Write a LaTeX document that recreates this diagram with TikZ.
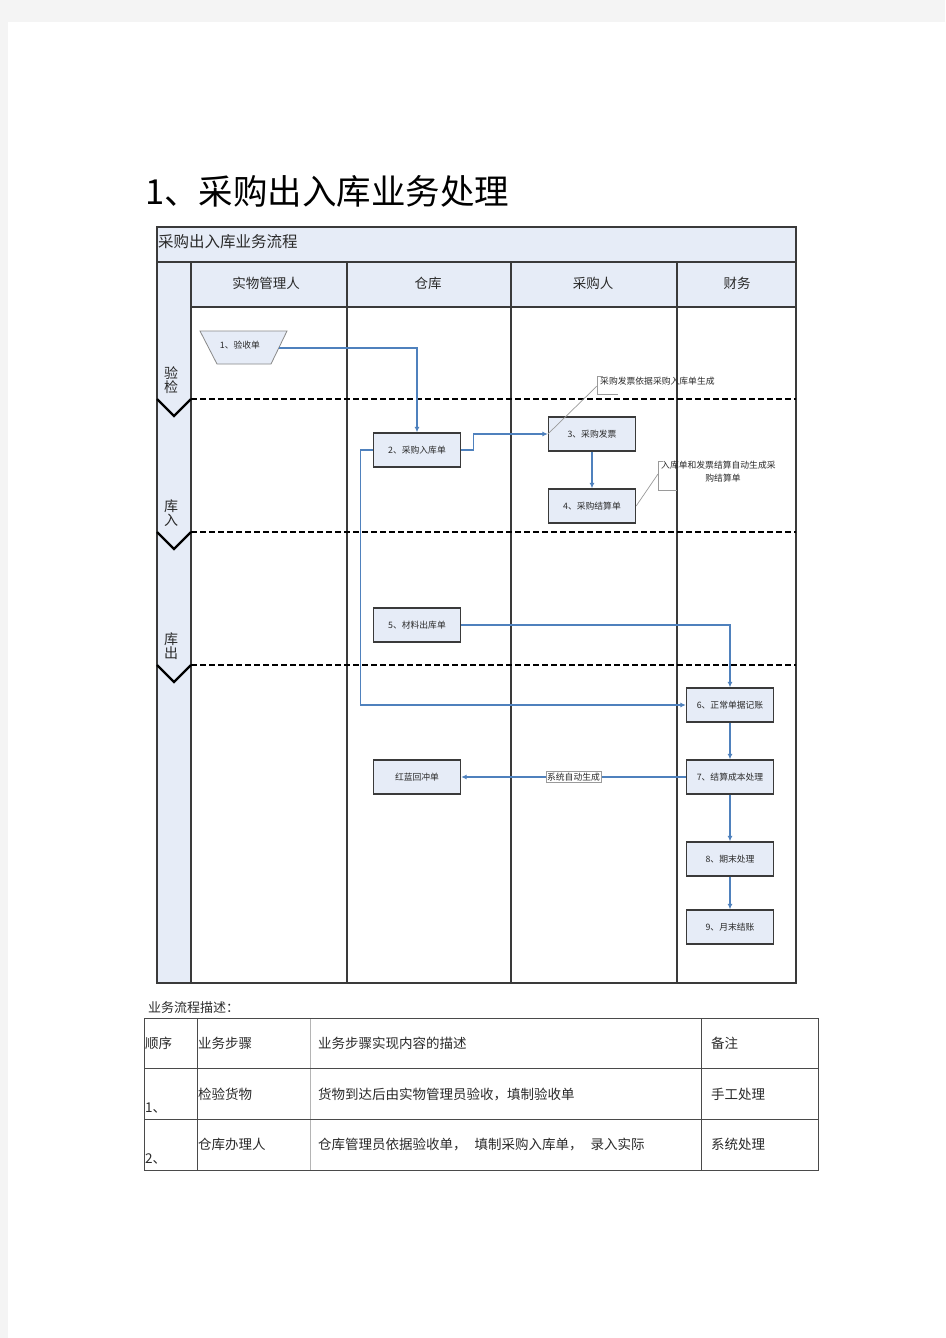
\documentclass[tikz,border=0pt]{standalone}
\usepackage{fontspec}
\setmainfont{Noto Sans CJK SC}
\usetikzlibrary{arrows.meta}
\definecolor{pagegrey}{HTML}{F4F4F4}
\definecolor{lanefill}{HTML}{E6ECF7}
\definecolor{flowblue}{HTML}{4F81BD}
\definecolor{boxline}{HTML}{3A3A3A}
\definecolor{notegrey}{HTML}{9A9A9A}
\definecolor{tabline}{HTML}{4A4A4A}
\definecolor{tabgrey}{HTML}{B4B4B4}
\definecolor{txt}{HTML}{2A2A2A}
\begin{document}
\begin{tikzpicture}[x=1pt,y=-1pt,
  stepbox/.style={draw=boxline,line width=1.3pt,fill=lanefill,minimum width=87pt,minimum height=34pt,inner sep=0pt,font=\fontsize{8.8}{10}\selectfont,text=txt},
  flow/.style={draw=flowblue,line width=1.2pt,-{Latex[length=5.5pt,width=5pt]}},
  noteline/.style={draw=notegrey,line width=0.7pt},
  notetext/.style={font=\fontsize{8.8}{10}\selectfont,text=txt,inner sep=0pt},
  frame/.style={draw=boxline,line width=1.2pt},
  phaseline/.style={draw=black,line width=2.3pt,dash pattern=on 6pt off 3pt},
  chevron/.style={draw=black,line width=2.3pt},
  lanehead/.style={font=\fontsize{13.5}{14}\selectfont,text=txt,inner sep=0pt},
  phasetext/.style={font=\fontsize{14}{14}\selectfont,text=txt,inner sep=0pt,align=center},
  tabtext/.style={font=\fontsize{13.5}{14}\selectfont,text=txt,inner sep=0pt,anchor=west},
  autolabel/.style={fill=white,draw=notegrey,line width=0.5pt,font=\fontsize{8.8}{10}\selectfont,text=txt,inner sep=1.2pt}
]
\useasboundingbox (0,0) rectangle (945,1338);
\fill[pagegrey] (0,0) rectangle (945,1338);
\fill[white] (8,22) rectangle (945,1338);

% page title
\node[anchor=west,inner sep=0pt,font=\fontsize{34.5}{36}\selectfont] (title) at (145,191) {1、采购出入库业务处理};

% swimlane frame
\fill[lanefill] (157,227) rectangle (796,262);
\fill[lanefill] (191,262) rectangle (796,307);
\fill[lanefill] (157,262) rectangle (191,983);
\draw[frame] (157,227) rectangle (796,983);
\draw[frame] (157,262) -- (796,262);
\draw[frame] (191,307) -- (796,307);
\draw[frame] (191,262) -- (191,983);
\draw[frame] (347,262) -- (347,983);
\draw[frame] (511,262) -- (511,983);
\draw[frame] (677,262) -- (677,983);

\node[anchor=west,inner sep=0pt,font=\fontsize{15.5}{16}\selectfont,text=txt] (flowtitle) at (158,242) {采购出入库业务流程};
\node[lanehead] (h1) at (266,283) {实物管理人};
\node[lanehead] (h2) at (428,283) {仓库};
\node[lanehead] (h3) at (593,283) {采购人};
\node[lanehead] (h4) at (737,283) {财务};

% phases
\draw[phaseline] (191,399) -- (796,399);
\draw[phaseline] (191,532) -- (796,532);
\draw[phaseline] (191,665) -- (796,665);
\draw[chevron] (157,399) -- (174,416) -- (191,399);
\draw[chevron] (157,532) -- (174,549) -- (191,532);
\draw[chevron] (157,665) -- (174,682) -- (191,665);
\node[phasetext] (p1) at (171,380) {验\\检};
\node[phasetext] (p2) at (171,513) {库\\入};
\node[phasetext] (p3) at (171,646) {库\\出};

% nodes
\draw[draw=boxline!60,fill=lanefill,line width=0.8pt] (200,331) -- (287,331) -- (271,364) -- (217,364) -- cycle;
\node[notetext] (n1) at (240,345) {1、验收单};
\coordinate (n1r) at (279,348);
\node[stepbox] (n2) at (417,450) {2、采购入库单};
\node[stepbox] (n3) at (592,434) {3、采购发票};
\node[stepbox] (n4) at (592,506) {4、采购结算单};
\node[stepbox] (n5) at (417,625) {5、材料出库单};
\node[stepbox] (n6) at (730,705) {6、正常单据记账};
\node[stepbox] (n7) at (730,777) {7、结算成本处理};
\node[stepbox] (n8) at (730,859) {8、期末处理};
\node[stepbox] (n9) at (730,927) {9、月末结账};
\node[stepbox] (hc) at (417,777) {红蓝回冲单};

% connectors
\draw[flow] (n1r) -| (n2.north);
\draw[flow] (n2.east) -- ++(12,0) |- (n3.west);
\draw[flow] (n3.south) -- (n4.north);
\draw[flow] (n2.west) -- ++(-12,0) |- (n6.west);
\draw[flow] (n5.east) -| (n6.north);
\draw[flow] (n6.south) -- (n7.north);
\draw[flow] (n7.west) -- node[autolabel] (lab) {系统自动生成} (hc.east);
\draw[flow] (n7.south) -- (n8.north);
\draw[flow] (n8.south) -- (n9.north);

% annotations
\node[notetext,anchor=west] (a1) at (600,381) {采购发票依据采购入库单生成};
\draw[noteline] (603,376) -- (597,376) -- (597,394) -- (618,394);
\coordinate (b1) at (597,386);
\draw[noteline] (b1) -- (n3.west);
\node[notetext,anchor=west] (a2) at (661,465) {入库单和发票结算自动生成采};
\node[notetext] (a2b) at (723,478) {购结算单};
\draw[noteline] (663,461) -- (658,461) -- (658,490) -- (677,490);
\coordinate (b2) at (658,474);
\draw[noteline] (b2) -- (n4.east);

% table
\node[anchor=west,inner sep=0pt,font=\fontsize{13}{14}\selectfont,text=txt] (desc) at (148,1008) {业务流程描述：};
\draw[tabgrey,line width=1pt] (310,1018) -- (310,1170);
\draw[tabline,line width=1pt] (144,1018) rectangle (818,1170);
\draw[tabline,line width=1pt] (144,1068) -- (818,1068);
\draw[tabline,line width=1pt] (144,1119) -- (818,1119);
\draw[tabline,line width=1pt] (197,1018) -- (197,1170);
\draw[tabline,line width=1pt] (701,1018) -- (701,1170);
\node[tabtext] (t11) at (145,1043) {顺序};
\node[tabtext] (t12) at (198,1043) {业务步骤};
\node[tabtext] (t13) at (318,1043) {业务步骤实现内容的描述};
\node[tabtext] (t14) at (711,1043) {备注};
\node[tabtext] (t21) at (145,1108) {1、};
\node[tabtext] (t22) at (198,1094) {检验货物};
\node[tabtext] (t23) at (318,1094) {货物到达后由实物管理员验收，填制验收单};
\node[tabtext] (t24) at (711,1094) {手工处理};
\node[tabtext] (t31) at (145,1159) {2、};
\node[tabtext] (t32) at (198,1144) {仓库办理人};
\node[tabtext] (t33) at (318,1144) {仓库管理员依据验收单，\hspace{8pt}填制采购入库单，\hspace{8pt}录入实际};
\node[tabtext] (t34) at (711,1144) {系统处理};
\end{tikzpicture}
\end{document}
